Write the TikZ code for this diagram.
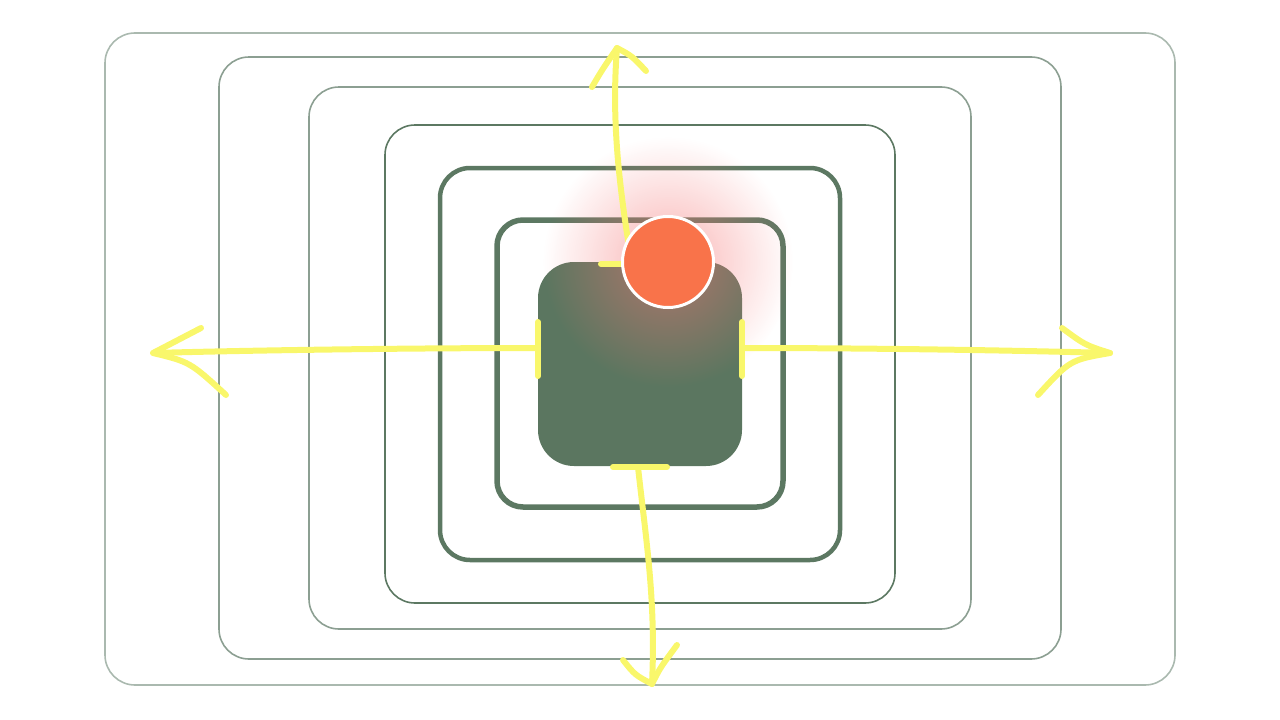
\documentclass[tikz,border=0pt]{standalone}
\usetikzlibrary{fadings}

\definecolor{ringA}{HTML}{AAB9AF}
\definecolor{ringB}{HTML}{8C9F92}
\definecolor{ringC}{HTML}{5C7862}
\definecolor{core}{HTML}{5B7660}
\definecolor{hand}{HTML}{F9F76B}
\definecolor{dotfill}{HTML}{F9734A}
\definecolor{glow}{HTML}{F47676}

\tikzfading[name=glowfade, inner color=transparent!45, outer color=transparent!100]

\tikzset{
  ring/.style={draw=#1,rounded corners=30pt,line width=1.6pt},
  stroke/.style={draw=hand,line width=6pt,line cap=round,line join=round}
}

\begin{document}
\begin{tikzpicture}[x=1pt,y=-1pt]
\useasboundingbox (0,0) rectangle (1280,720);

% layers, outside in
\draw[ring=ringA] (105,33) rectangle (1175,685);
\draw[ring=ringB] (219,57) rectangle (1061,659);
\draw[ring=ringB] (309,87) rectangle (971,629);
\draw[ring=ringC] (385,125) rectangle (895,603);
\draw[ring=ringC,line width=4.5pt] (440,168) rectangle (840,560);
\draw[ring=ringC,line width=5.5pt,rounded corners=26pt] (497,220) rectangle (783,507);
\fill[core,rounded corners=36pt] (538,262) rectangle (742,466);

\fill[glow,path fading=glowfade] (668,262) circle (125);

% T-bars on the core
\coordinate (Tt) at (632,264);
\coordinate (Tl) at (538,348);
\coordinate (Tr) at (742,348);
\coordinate (Tb) at (638,467);
\draw[stroke] (601,264) -- (640,264);
\draw[stroke] (538,322) -- (538,376);
\draw[stroke] (742,322) -- (742,376);
\draw[stroke] (613,467) -- (667,467);

% arrow tips
\coordinate (At) at (617,48);
\coordinate (Al) at (153,353);
\coordinate (Ar) at (1110,353);
\coordinate (Ab) at (652,684);

% up
\draw[stroke] (Tt) .. controls (614,160) and (613,100) .. (At);
\draw[stroke] (592,87) .. controls (602,70) .. (At) .. controls (632,56) .. (646,71);
% left
\draw[stroke] (Tl) .. controls (420,348) and (260,350) .. (Al);
\draw[stroke] (201,328) .. controls (178,340) .. (Al) .. controls (190,362) .. (226,395);
% right
\draw[stroke] (Tr) .. controls (860,348) and (1000,350) .. (Ar);
\draw[stroke] (1062,328) .. controls (1085,345) .. (Ar) .. controls (1070,360) .. (1038,395);
% down
\draw[stroke] (Tb) .. controls (646,540) and (656,600) .. (Ab);
\draw[stroke] (623,660) .. controls (635,675) .. (Ab) .. controls (660,668) .. (677,645);

\node[circle,fill=dotfill,draw=white,line width=3pt,minimum size=91pt,inner sep=0] (dot) at (668,262) {};
\end{tikzpicture}
\end{document}
